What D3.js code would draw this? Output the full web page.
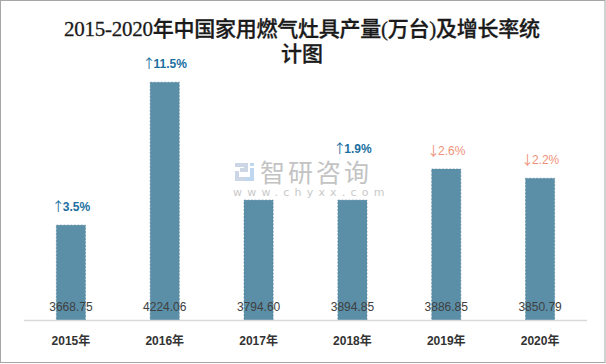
<!DOCTYPE html>
<html><head><meta charset="utf-8">
<script src="https://cdn.jsdelivr.net/npm/d3@7"></script>
<style>html,body{margin:0;padding:0;background:#fff;}</style>
</head><body>
<script>
const categories = ["2015年","2016年","2017年","2018年","2019年","2020年"];
const production = [3668.75, 4224.06, 3794.60, 3894.85, 3886.85, 3850.79];
// bar heights as drawn in the reference (2017/2018 bars differ from their labels)
const barValues = [3668.75, 4224.06, 3766, 3766, 3886.85, 3850.79];
const growthLabels = ["3.5%", "11.5%", null, "1.9%", "2.6%", "2.2%"];
const growthDir = ["up", "up", null, "up", "down", "down"];
const titleLines = ["2015-2020年中国家用燃气灶具产量(万台)及增长率统", "计图"];

const W = 606, H = 364;
const svg = d3.select("body").append("svg").attr("width", W).attr("height", H);
svg.append("rect").attr("x", 0.5).attr("y", 0.5).attr("width", W - 1.5).attr("height", H - 2)
  .attr("fill", "#fff").attr("stroke", "#a6a6a6");

const x = d3.scaleBand().domain(categories).range([24, 587]).paddingInner(0.69).paddingOuter(0.345);
const y = d3.scaleLinear().domain([3300, 4400]).range([320, 37]);

// title
svg.selectAll("text.title").data(titleLines).join("text").attr("class", "title")
  .attr("x", 302).attr("y", (d, i) => 36 + i * 25)
  .attr("text-anchor", "middle")
  .attr("font-family", "'Liberation Serif','Noto Sans CJK SC',serif")
  .attr("font-size", 21).attr("font-weight", 500).attr("fill", "#1a1a1a")
  .attr("stroke", "#1a1a1a").attr("stroke-width", 0.3)
  .attr("textLength", (d, i) => i === 0 ? 476 : null)
  .text(d => d);

// watermark
const wm = svg.append("g").attr("opacity", 0.9);
const lg = wm.append("g").attr("transform", "translate(235,163)");
lg.append("path").attr("d", "M0,0 H13 V9 H5 V5 H9 V4 H0 Z").attr("fill", "#c8d2e3");
lg.append("path").attr("d", "M0,8 H4 V18 H0 Z M0,14 H13 V18 H0 Z").attr("fill", "#c8d2e3");
lg.append("path").attr("d", "M15,0 H19 V3 H15 Z M15,5 H19 V18 H10 V14 H15 Z").attr("fill", "#b9d3ee");
wm.append("text").attr("x", 260).attr("y", 182).attr("font-family", "'Noto Sans CJK SC',sans-serif")
  .attr("font-size", 25).attr("letter-spacing", 3).attr("fill", "#bdbdbd").text("智研咨询");
wm.append("text").attr("x", 233).attr("y", 196).attr("font-family", "'DejaVu Sans',sans-serif")
  .attr("font-size", 11).attr("letter-spacing", 5.2).attr("fill", "#c4c4c4").text("www.chyxx.com");

// bars
svg.selectAll("rect.bar").data(categories).join("rect").attr("class", "bar")
  .attr("x", d => x(d)).attr("width", x.bandwidth())
  .attr("y", (d, i) => y(barValues[i])).attr("height", (d, i) => y(3300) - y(barValues[i]))
  .attr("fill", "#5b8fa8").attr("stroke", "#4d7f98").attr("stroke-width", 0.6).attr("stroke-dasharray", "2,1.5");

// axis
const xAxis = svg.append("g").attr("transform", "translate(0,320)")
  .call(d3.axisBottom(x).tickSize(0).tickPadding(16));
xAxis.select(".domain").attr("stroke", "#d9d9d9").attr("stroke-width", 1.5).attr("d", "M24,0.5H587");
xAxis.selectAll("text").attr("font-family", "'Liberation Sans','Noto Sans CJK SC',sans-serif")
  .attr("font-size", 12).attr("font-weight", "bold").attr("fill", "#333");

// value labels
svg.selectAll("text.val").data(categories).join("text").attr("class", "val")
  .attr("x", d => x(d) + x.bandwidth() / 2).attr("y", 311)
  .attr("text-anchor", "middle").attr("font-family", "'Liberation Sans',sans-serif")
  .attr("font-size", 12).attr("fill", "#404040")
  .text((d, i) => production[i].toFixed(2));

// growth labels
const gl = categories.map((c, i) => ({c, i})).filter(d => growthLabels[d.i]);
const gt = svg.selectAll("text.growth").data(gl).join("text").attr("class", "growth")
  .attr("x", d => x(d.c) + x.bandwidth() / 2).attr("y", d => y(production[d.i]) - 14)
  .attr("text-anchor", "middle").attr("font-family", "'Liberation Sans','DejaVu Sans',sans-serif")
  .attr("font-size", 12)
  .attr("font-weight", d => growthDir[d.i] === "up" ? "bold" : "normal")
  .attr("fill", d => growthDir[d.i] === "up" ? "#1a6f9f" : "#f0927a");
gt.append("tspan").attr("font-family", "'Noto Sans CJK SC',sans-serif").attr("font-weight", "normal")
  .attr("font-size", 13)
  .text(d => growthDir[d.i] === "up" ? "↑" : "↓");
gt.append("tspan").attr("dx", -2).text(d => growthLabels[d.i]);
</script>
</body></html>
